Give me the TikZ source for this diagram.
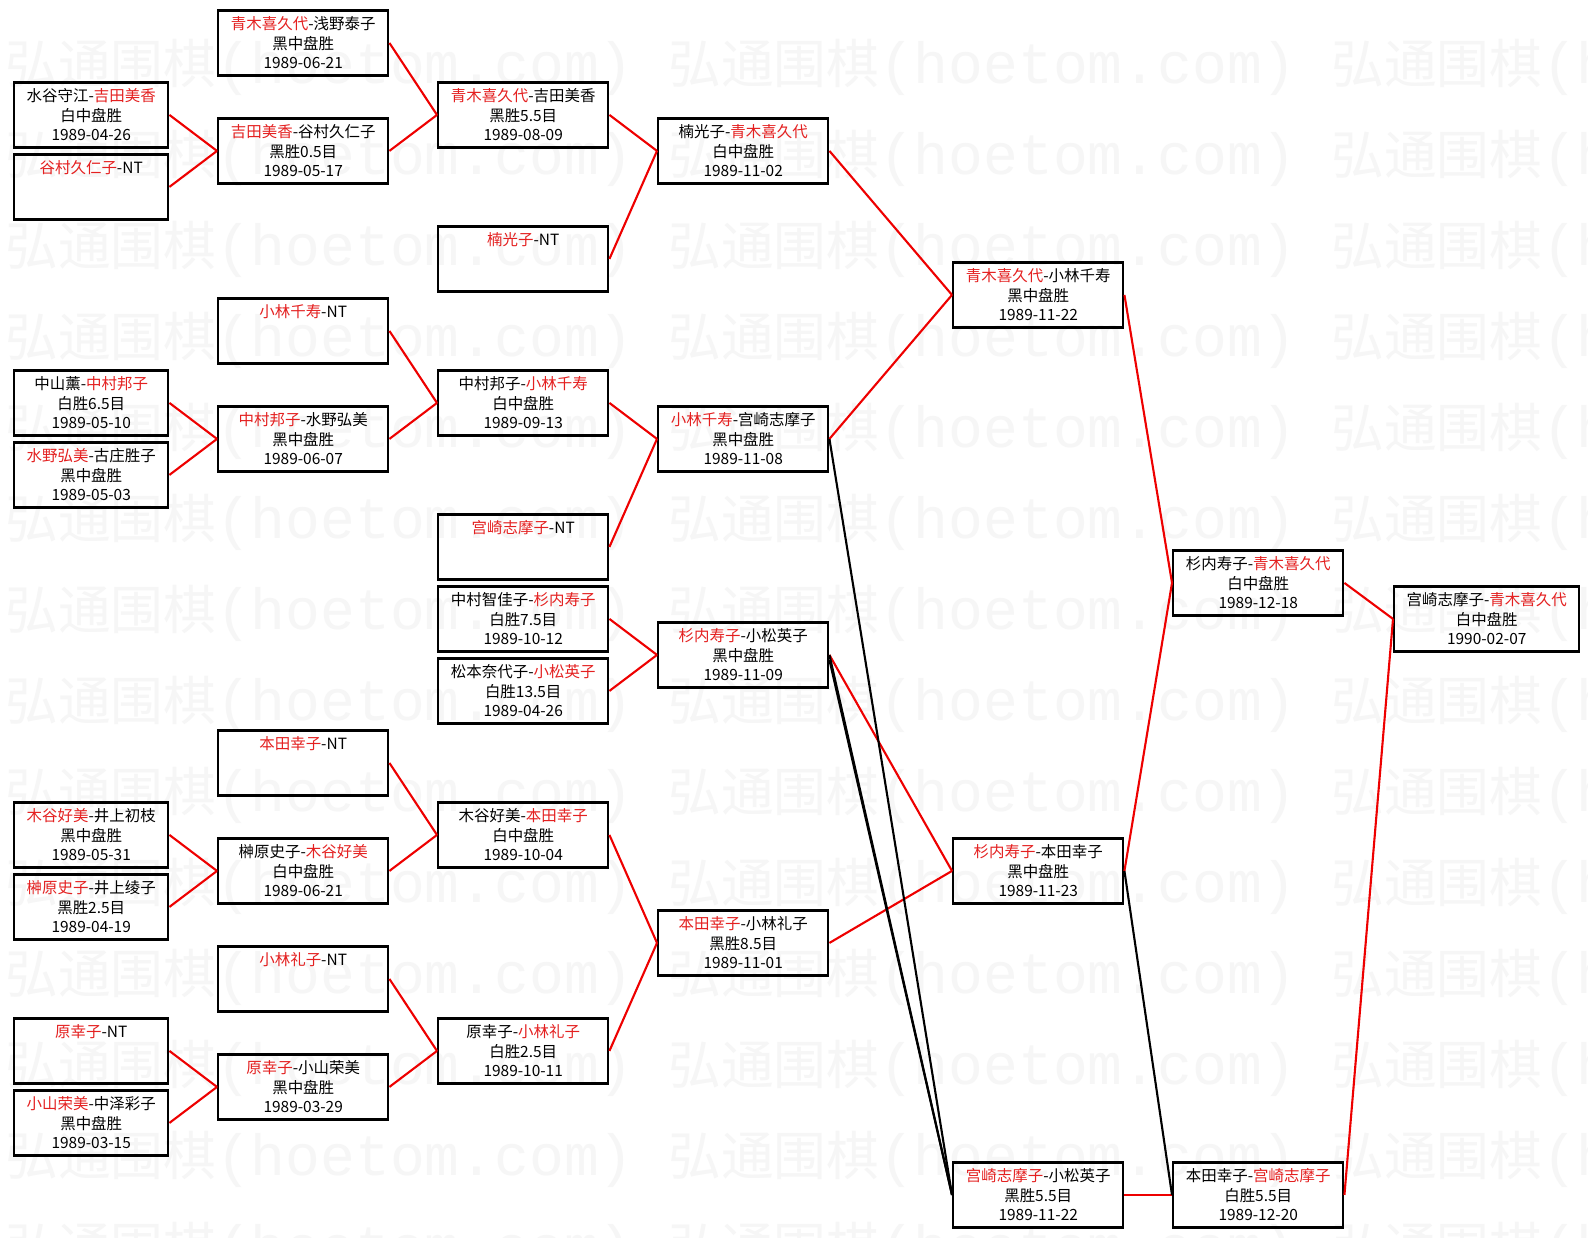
\documentclass[tikz,border=0pt]{standalone}
\usepackage{fontspec}
\newfontfamily\cjk{Noto Sans CJK SC}
\newfontfamily\wmmono{Liberation Mono}
\definecolor{winred}{RGB}{228,32,32}
\definecolor{linkred}{RGB}{238,0,0}
\definecolor{wmgray}{RGB}{246,246,246}
\newcommand{\win}[1]{\textcolor{winred}{#1}}

\begin{document}
\begin{tikzpicture}[x=0.02cm,y=-0.02cm,
  game/.style={draw,line width=1.4pt,minimum width=3.4cm,minimum height=1.3cm,inner sep=0pt,
    align=center,anchor=north west,font=\cjk\fontsize{8.8}{11.1}\selectfont},
  gamefirst/.style={game,minimum width=3.08cm},
  gamelast/.style={game,minimum width=3.7cm},
  wline/.style={draw=linkred,line width=1.2pt},
  lline/.style={draw=black,line width=1.2pt},
  wmark/.style={text=wmgray,anchor=west,inner sep=0pt,font=\cjk\fontsize{30}{30}\selectfont}]
\useasboundingbox (0,0) rectangle (1588,1237);
\fill[white] (0,0) rectangle (1588,1237);
% watermark
\begin{scope}
\clip (0,0) rectangle (1588,1237);
\foreach \r in {0,...,13}{
  \foreach \c in {0,1,2}{
    \node[wmark] (wm-\r-\c) at (5+663*\c,67+91*\r) {弘通围棋{\wmmono\fontsize{33}{33}\selectfont(hoetom.com)}};
  }
}
\end{scope}
% first round
\node[gamefirst] (a1) at (13,81.2) {水谷守江-\win{吉田美香}\\白中盘胜\\1989-04-26};
\node[gamefirst] (a2) at (13,153.2) {\win{谷村久仁子}-NT\\~\\~};
\node[gamefirst] (a3) at (13,369.2) {中山薰-\win{中村邦子}\\白胜6.5目\\1989-05-10};
\node[gamefirst] (a4) at (13,441.2) {\win{水野弘美}-古庄胜子\\黑中盘胜\\1989-05-03};
\node[gamefirst] (a5) at (13,801.2) {\win{木谷好美}-井上初枝\\黑中盘胜\\1989-05-31};
\node[gamefirst] (a6) at (13,873.2) {\win{榊原史子}-井上绫子\\黑胜2.5目\\1989-04-19};
\node[gamefirst] (a7) at (13,1017.2) {\win{原幸子}-NT\\~\\~};
\node[gamefirst] (a8) at (13,1089.2) {\win{小山荣美}-中泽彩子\\黑中盘胜\\1989-03-15};
% second round
\node[game] (b1) at (217,9.2) {\win{青木喜久代}-浅野泰子\\黑中盘胜\\1989-06-21};
\node[game] (b2) at (217,117.2) {\win{吉田美香}-谷村久仁子\\黑胜0.5目\\1989-05-17};
\node[game] (b3) at (217,297.2) {\win{小林千寿}-NT\\~\\~};
\node[game] (b4) at (217,405.2) {\win{中村邦子}-水野弘美\\黑中盘胜\\1989-06-07};
\node[game] (b5) at (217,729.2) {\win{本田幸子}-NT\\~\\~};
\node[game] (b6) at (217,837.2) {榊原史子-\win{木谷好美}\\白中盘胜\\1989-06-21};
\node[game] (b7) at (217,945.2) {\win{小林礼子}-NT\\~\\~};
\node[game] (b8) at (217,1053.2) {\win{原幸子}-小山荣美\\黑中盘胜\\1989-03-29};
% third round
\node[game] (c1) at (437,81.2) {\win{青木喜久代}-吉田美香\\黑胜5.5目\\1989-08-09};
\node[game] (c2) at (437,225.2) {\win{楠光子}-NT\\~\\~};
\node[game] (c3) at (437,369.2) {中村邦子-\win{小林千寿}\\白中盘胜\\1989-09-13};
\node[game] (c4) at (437,513.2) {\win{宫崎志摩子}-NT\\~\\~};
\node[game] (c5) at (437,585.2) {中村智佳子-\win{杉内寿子}\\白胜7.5目\\1989-10-12};
\node[game] (c6) at (437,657.2) {松本奈代子-\win{小松英子}\\白胜13.5目\\1989-04-26};
\node[game] (c7) at (437,801.2) {木谷好美-\win{本田幸子}\\白中盘胜\\1989-10-04};
\node[game] (c8) at (437,1017.2) {原幸子-\win{小林礼子}\\白胜2.5目\\1989-10-11};
% fourth round
\node[game] (d1) at (657,117.2) {楠光子-\win{青木喜久代}\\白中盘胜\\1989-11-02};
\node[game] (d2) at (657,405.2) {\win{小林千寿}-宫崎志摩子\\黑中盘胜\\1989-11-08};
\node[game] (d3) at (657,621.2) {\win{杉内寿子}-小松英子\\黑中盘胜\\1989-11-09};
\node[game] (d4) at (657,909.2) {\win{本田幸子}-小林礼子\\黑胜8.5目\\1989-11-01};
% semi-finals
\node[game] (e1) at (952,261.2) {\win{青木喜久代}-小林千寿\\黑中盘胜\\1989-11-22};
\node[game] (e2) at (952,837.2) {\win{杉内寿子}-本田幸子\\黑中盘胜\\1989-11-23};
\node[game] (e3) at (952,1161.2) {\win{宫崎志摩子}-小松英子\\黑胜5.5目\\1989-11-22};
\node[game] (f1) at (1172,549.2) {杉内寿子-\win{青木喜久代}\\白中盘胜\\1989-12-18};
\node[game] (f2) at (1172,1161.2) {本田幸子-\win{宫崎志摩子}\\白胜5.5目\\1989-12-20};
% final
\node[gamelast] (g1) at (1393,585.2) {宫崎志摩子-\win{青木喜久代}\\白中盘胜\\1990-02-07};
% winners go right
\draw[wline] (a1.east) -- (b2.west);
\draw[wline] (a2.east) -- (b2.west);
\draw[wline] (a3.east) -- (b4.west);
\draw[wline] (a4.east) -- (b4.west);
\draw[wline] (a5.east) -- (b6.west);
\draw[wline] (a6.east) -- (b6.west);
\draw[wline] (a7.east) -- (b8.west);
\draw[wline] (a8.east) -- (b8.west);
\draw[wline] (b1.east) -- (c1.west);
\draw[wline] (b2.east) -- (c1.west);
\draw[wline] (b3.east) -- (c3.west);
\draw[wline] (b4.east) -- (c3.west);
\draw[wline] (b5.east) -- (c7.west);
\draw[wline] (b6.east) -- (c7.west);
\draw[wline] (b7.east) -- (c8.west);
\draw[wline] (b8.east) -- (c8.west);
\draw[wline] (c1.east) -- (d1.west);
\draw[wline] (c2.east) -- (d1.west);
\draw[wline] (c3.east) -- (d2.west);
\draw[wline] (c4.east) -- (d2.west);
\draw[wline] (c5.east) -- (d3.west);
\draw[wline] (c6.east) -- (d3.west);
\draw[wline] (c7.east) -- (d4.west);
\draw[wline] (c8.east) -- (d4.west);
\draw[wline] (d1.east) -- (e1.west);
\draw[wline] (d2.east) -- (e1.west);
\draw[wline] (d3.east) -- (e2.west);
\draw[wline] (d4.east) -- (e2.west);
\draw[wline] (e1.east) -- (f1.west);
\draw[wline] (e2.east) -- (f1.west);
\draw[wline] (e3.east) -- (f2.west);
\draw[wline] (f1.east) -- (g1.west);
\draw[wline] (f2.east) -- (g1.west);
% losers drop down
\draw[lline] (d2.east) -- (e3.west);
\draw[lline] (d3.east) -- (e3.west);
\draw[lline] ([yshift=-0.1cm]d3.east) -- (e3.west);
\draw[lline] (e2.east) -- (f2.west);
\end{tikzpicture}
\end{document}
